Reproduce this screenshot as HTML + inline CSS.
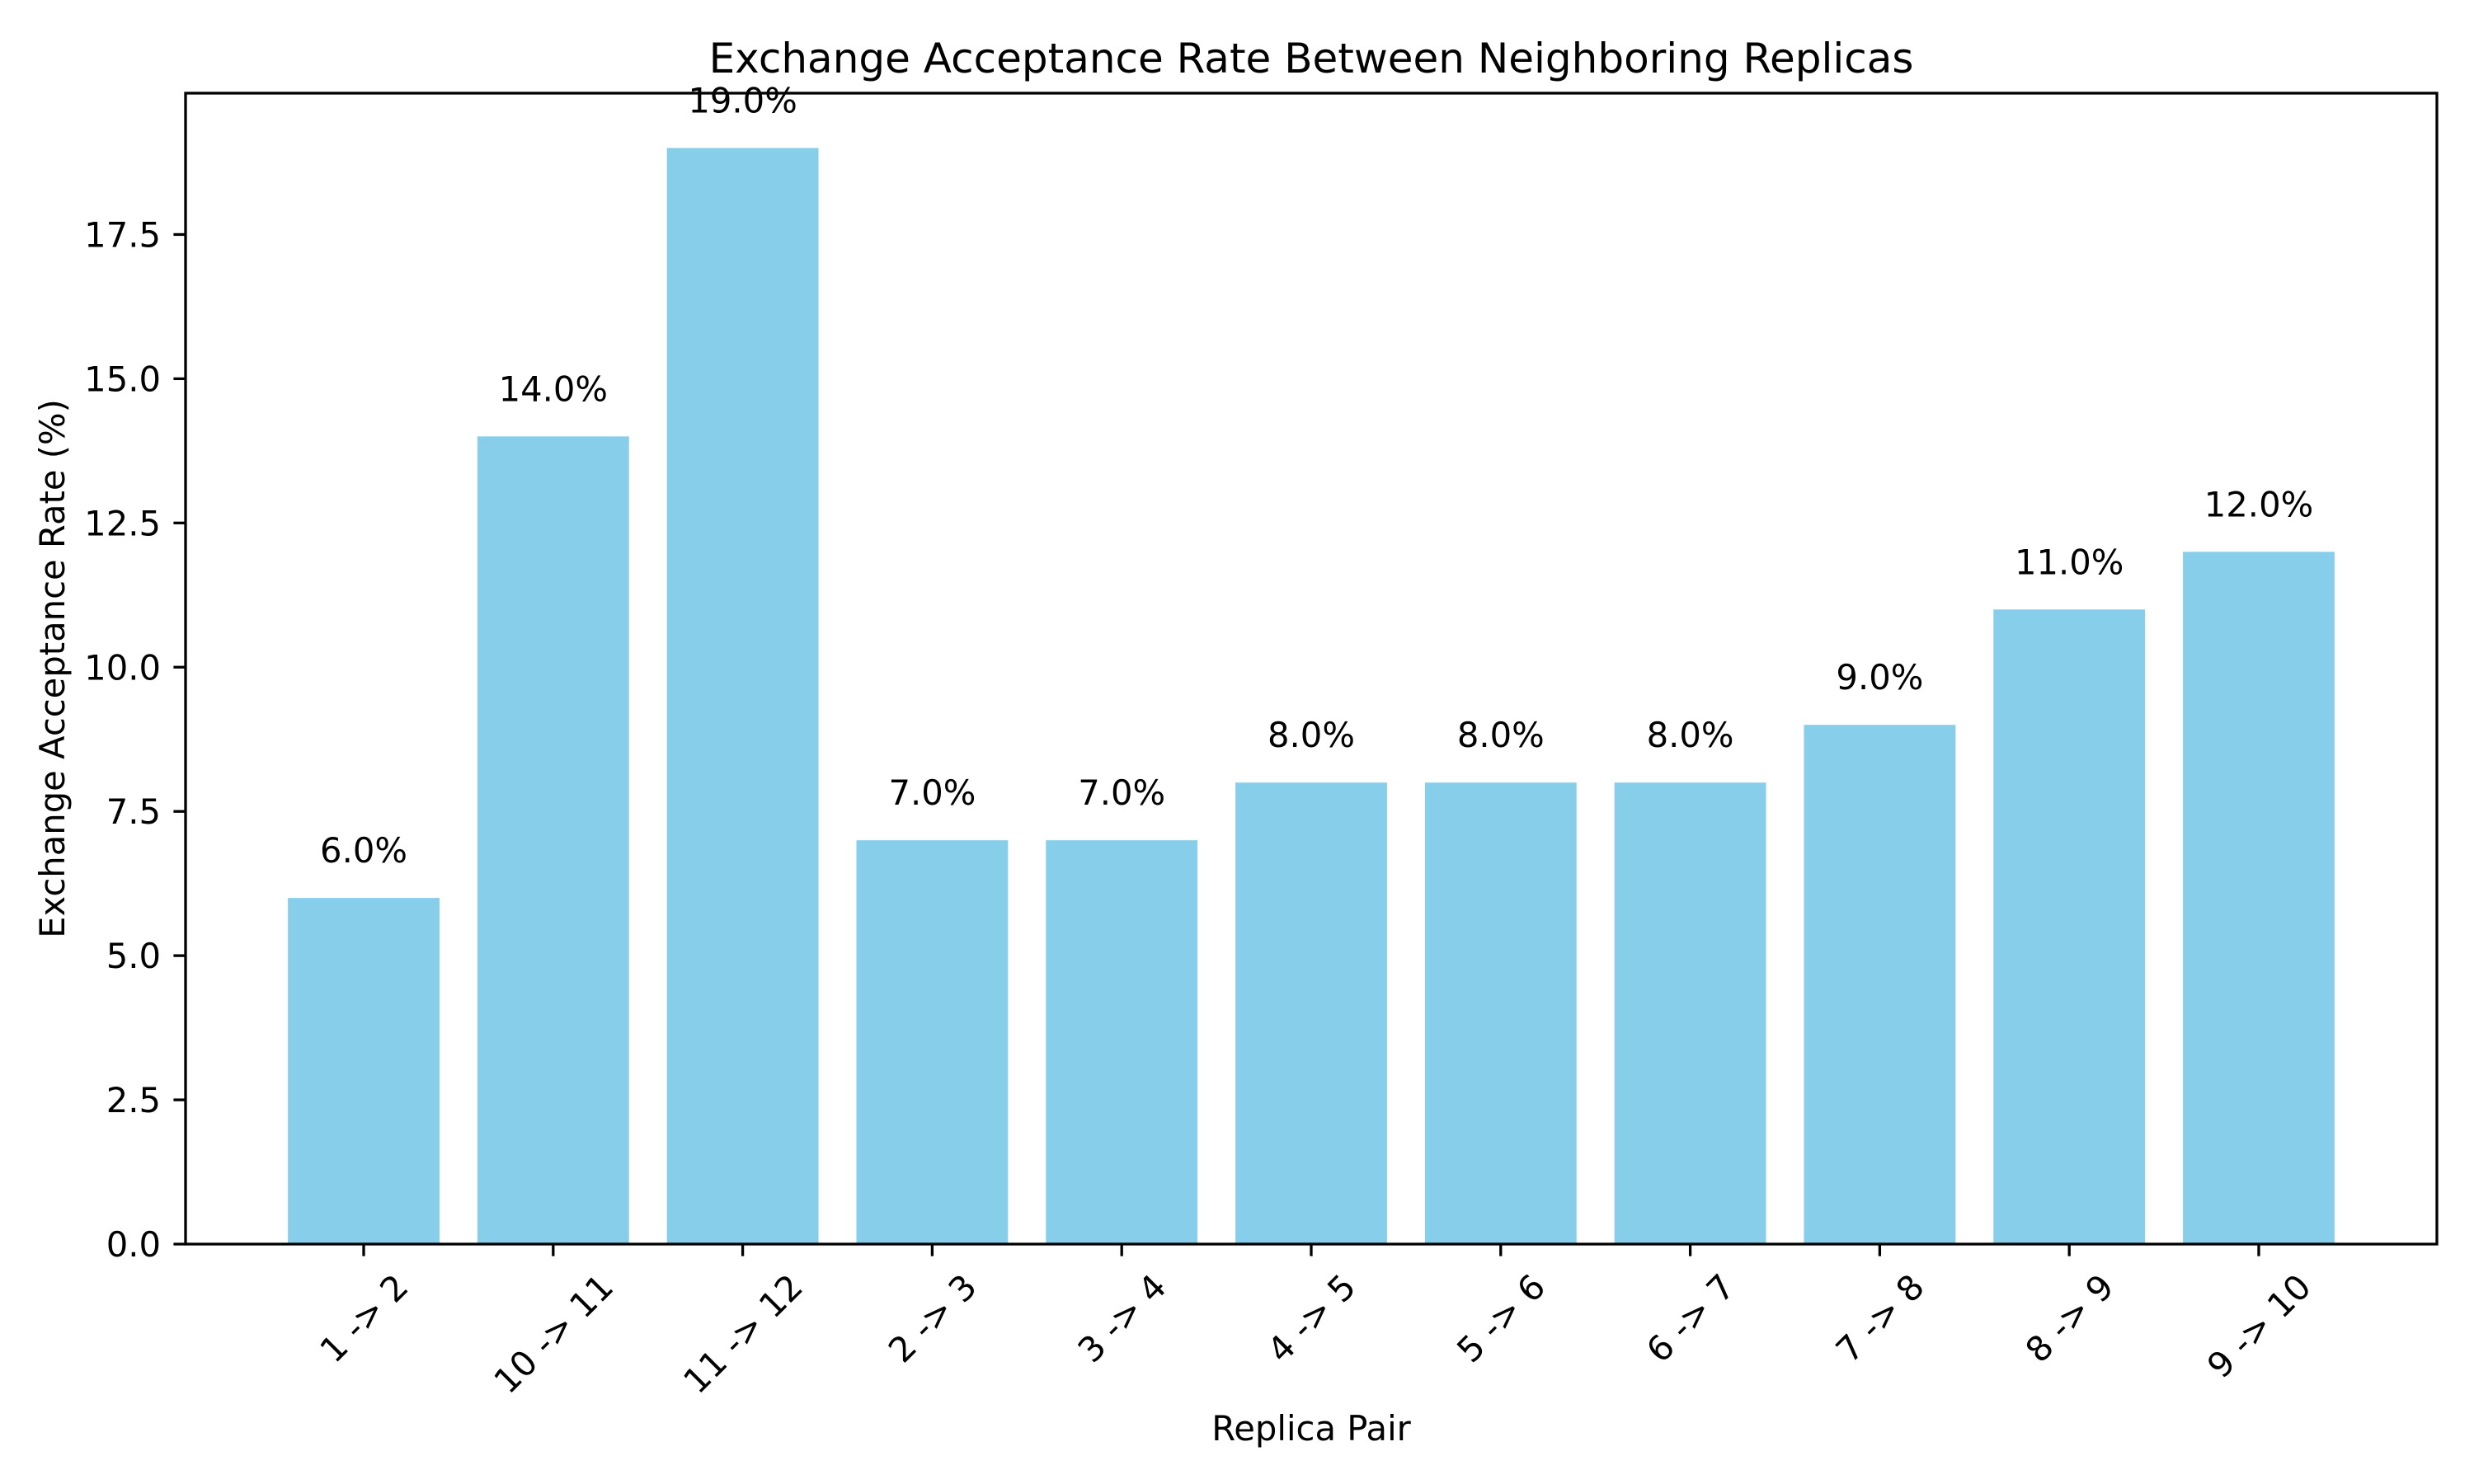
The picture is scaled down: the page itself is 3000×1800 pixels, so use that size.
<!DOCTYPE html>
<html><head><meta charset="utf-8"><style>html,body{margin:0;padding:0;background:#fff}svg{display:block}text{font-family:"DejaVu Sans","Liberation Sans",sans-serif;fill:#000}</style></head>
<body>
<svg id="chart" width="3000" height="1800" viewBox="0 0 3000 1800" xmlns="http://www.w3.org/2000/svg">
<rect width="3000" height="1800" fill="#fff"/>
<g id="bars"></g>
<g id="axes"></g>
<text x="1590" y="88" font-size="50" text-anchor="middle">Exchange Acceptance Rate Between Neighboring Replicas</text>
<text x="1590" y="1747" font-size="41.7" text-anchor="middle">Replica Pair</text>
<text transform="translate(78,811) rotate(-90)" font-size="41.7" text-anchor="middle">Exchange Acceptance Rate (%)</text>
</svg>
<script>
const categories = ["1 -> 2","10 -> 11","11 -> 12","2 -> 3","3 -> 4","4 -> 5","5 -> 6","6 -> 7","7 -> 8","8 -> 9","9 -> 10"];
const values = [6,14,19,7,7,8,8,8,9,11,12];
const yTicks = [0,2.5,5,7.5,10,12.5,15,17.5];
const yTickLabels = ["0.0","2.5","5.0","7.5","10.0","12.5","15.0","17.5"];

const NS = "http://www.w3.org/2000/svg";
const L = 225, R = 2955, T = 113, B = 1509;
const xmin = -0.94, xmax = categories.length - 1 + 0.94;
const ymax = Math.max(...values) * 1.05;
const xs = i => L + (i - xmin) / (xmax - xmin) * (R - L);
const ys = v => B - v / ymax * (B - T);
const unit = (R - L) / (xmax - xmin);
function mk(tag, attrs, parent) { const e = document.createElementNS(NS, tag); for (const k in attrs) e.setAttribute(k, attrs[k]); parent.appendChild(e); return e; }
const bars = document.getElementById('bars');
const axes = document.getElementById('axes');
values.forEach((v, i) => {
  const w = unit * 0.8;
  const r = mk('rect', {x: xs(i) - w / 2, y: ys(v), width: w, height: B - ys(v), fill: '#87ceeb'}, bars);
  
  
  const t = mk('text', {x: xs(i), y: ys(v + 0.5) - 8, 'font-size': 41.7, 'text-anchor': 'middle'}, bars);
  t.textContent = v.toFixed(1) + '%';
  
  
});
const sp = mk('rect', {x: L, y: T, width: R - L, height: B - T, fill: 'none', stroke: '#000', 'stroke-width': 3.3}, axes);


yTicks.forEach((v, k) => {
  const y = ys(v);
  mk('line', {x1: L, x2: L - 14.6, y1: y, y2: y, stroke: '#000', 'stroke-width': 3.3}, axes);
  const t = mk('text', {x: L - 30, y: y + 15, 'font-size': 41.7, 'text-anchor': 'end'}, axes);
  t.textContent = yTickLabels[k];
  
  
});
categories.forEach((c, i) => {
  const x = xs(i);
  mk('line', {x1: x, x2: x, y1: B, y2: B + 14.6, stroke: '#000', 'stroke-width': 3.3}, axes);
  const t = mk('text', {'font-size': 41.7, 'text-anchor': 'middle'}, axes);
  t.textContent = c;
  
  
  const len = t.getComputedTextLength();
  const h = 41.7;
  const half = (len + h) * 0.7071 / 2;
  const cy = B + 14.6 + 14.6 + half;
  t.setAttribute('transform', `translate(${x},${cy}) rotate(-45)`);
  t.setAttribute('y', 15);
});
</script>
</body></html>
